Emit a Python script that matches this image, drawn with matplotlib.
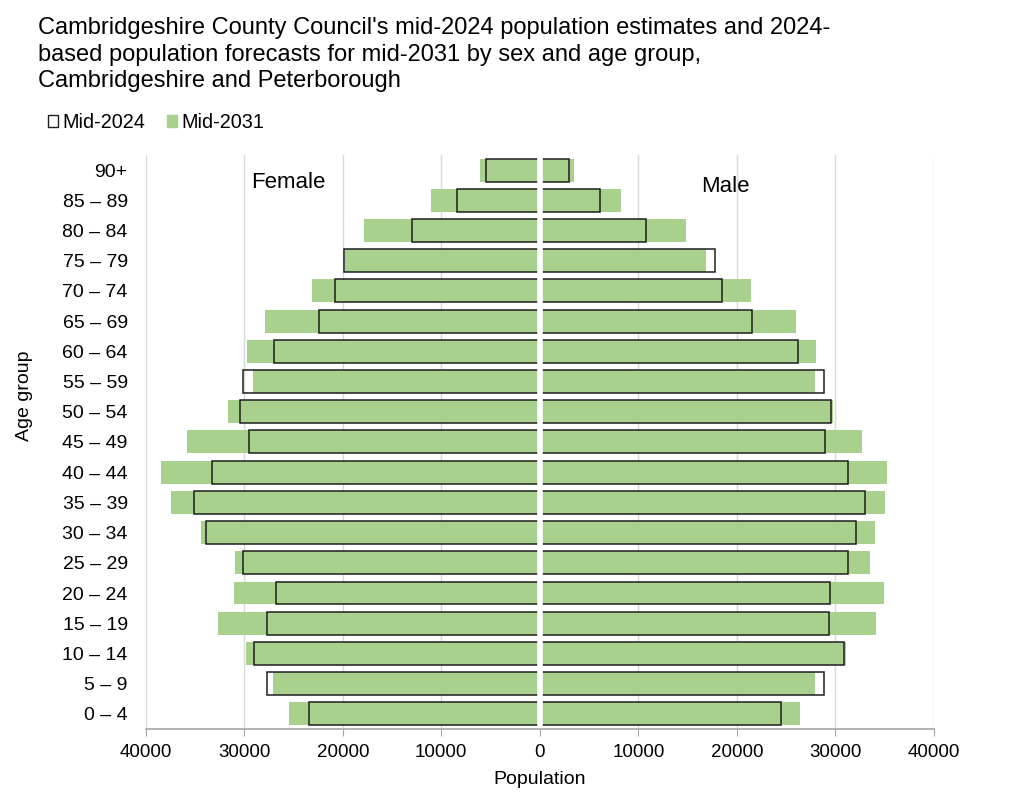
import matplotlib
matplotlib.use("Agg")
import matplotlib.pyplot as plt
from matplotlib.patches import Patch
import numpy as np

plt.rcParams['font.family'] = ['Liberation Sans', 'DejaVu Sans']

age_groups = ["0 – 4", "5 – 9", "10 – 14", "15 – 19", "20 – 24", "25 – 29", "30 – 34",
              "35 – 39", "40 – 44", "45 – 49", "50 – 54", "55 – 59", "60 – 64",
              "65 – 69", "70 – 74", "75 – 79", "80 – 84", "85 – 89", "90+"]

female_2024 = [23380, 27670, 28960, 27710, 26760, 30140, 33930, 35140, 33280, 29530,
               30480, 30140, 26930, 22440, 20810, 19900, 12970, 8450, 5430]
female_2031 = [25410, 27060, 29800, 32640, 31060, 30890, 34430, 37440, 38460, 35820,
               31630, 29090, 29700, 27910, 23110, 19760, 17870, 11010, 6040]
male_2024 = [24530, 28810, 30870, 29320, 29420, 31270, 32120, 32990, 31270, 28940,
             29520, 28810, 26210, 21550, 18510, 17740, 10750, 6120, 3010]
male_2031 = [26450, 27930, 31070, 34150, 34890, 33540, 34010, 34990, 35260, 32690,
             29750, 27970, 28030, 26040, 21450, 16830, 14800, 8280, 3450]

title = ("Cambridgeshire County Council's mid-2024 population estimates and 2024-\n"
         "based population forecasts for mid-2031 by sex and age group,\n"
         "Cambridgeshire and Peterborough")

green = "#A9D18E"
edge = "#1f1f1f"
grid_c = "#d9d9d9"

fig = plt.figure(figsize=(10.24, 8.07), dpi=100)
ax = fig.add_axes([0.1423, 0.0967, 0.912 - 0.1423, 0.808 - 0.0967])

y = np.arange(len(age_groups))
h = 0.76
ax.barh(y, [-v for v in female_2031], height=h, color=green, zorder=2)
ax.barh(y, male_2031, height=h, color=green, zorder=2)
ax.barh(y, [-v for v in female_2024], height=h, facecolor="none", edgecolor=edge, linewidth=1.1, zorder=3)
ax.barh(y, male_2024, height=h, facecolor="none", edgecolor=edge, linewidth=1.1, zorder=3)
ax.axvline(0, color="white", linewidth=4, zorder=4)

ax.set_xlim(-40000, 40000)
ax.set_ylim(-0.5, len(age_groups) - 0.5)
ticks = np.arange(-40000, 40001, 10000)
ax.set_xticks(ticks)
ax.set_xticklabels([str(abs(int(t))) for t in ticks], fontsize=13.5)
ax.set_yticks(y)
ax.set_yticklabels(age_groups, fontsize=14)
ax.tick_params(axis='y', length=0, pad=13)
ax.tick_params(axis='x', length=5, color="#a6a6a6", pad=6)
ax.grid(axis='x', color=grid_c, linewidth=1, zorder=0)
ax.set_axisbelow(True)
for s in ["top", "right", "left"]:
    ax.spines[s].set_visible(False)
ax.spines["bottom"].set_color("#a6a6a6")
ax.spines["bottom"].set_linewidth(1.2)
ax.spines["bottom"].set_zorder(5)

ax.set_xlabel("Population", fontsize=14, labelpad=7)
ax.set_ylabel("Age group", fontsize=14)
ax.yaxis.set_label_coords(-0.143, 0.58)

ax.text(-29300, 17.6, "Female", fontsize=16, va="center", ha="left")
ax.text(16400, 17.47, "Male", fontsize=16, va="center", ha="left")

fig.text(0.037, 0.979, title, fontsize=17, va="top", ha="left", linespacing=1.27)

handles = [Patch(facecolor="white", edgecolor=edge, linewidth=1.0, label="Mid-2024"),
           Patch(facecolor=green, edgecolor=green, label="Mid-2031")]
fig.legend(handles=handles, loc="upper left", bbox_to_anchor=(0.047, 0.860), ncol=2,
           frameon=False, fontsize=14.3, handlelength=0.52, handleheight=0.52,
           handletextpad=0.2, columnspacing=1.1, borderaxespad=0, borderpad=0)

fig.savefig("out.png", dpi=100)
